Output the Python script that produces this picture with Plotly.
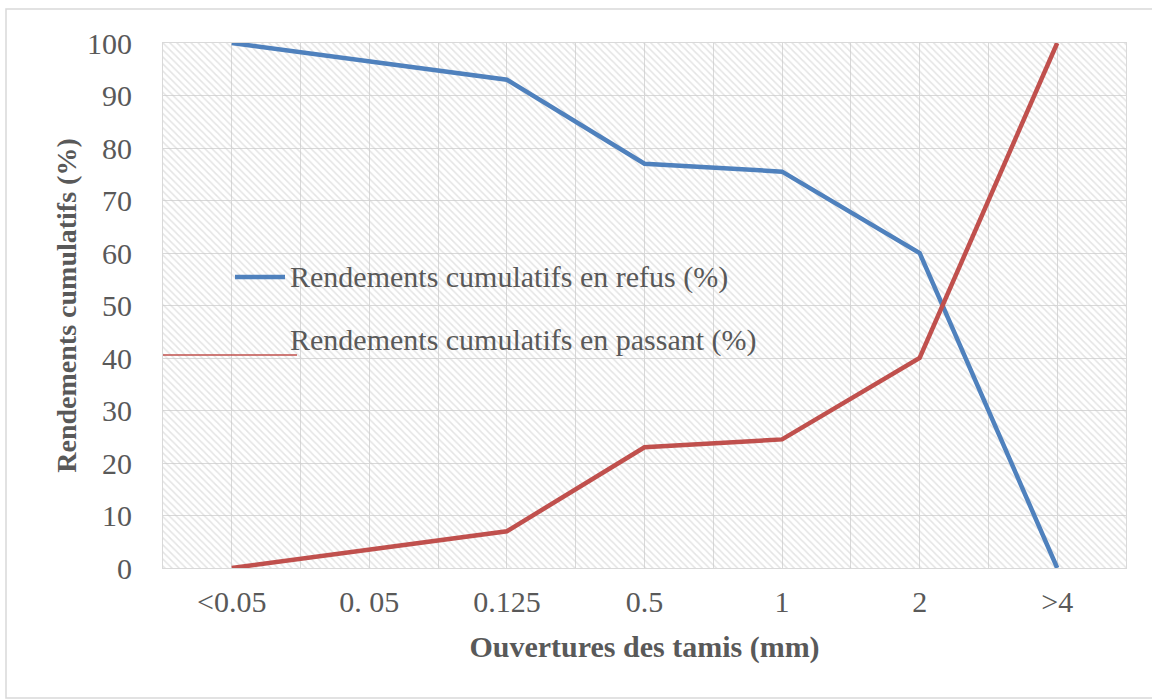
import plotly.graph_objects as go

# Sieve openings (mm) and cumulative yields (%)
CATEGORIES = ["<0.05", "0. 05", "0.125", "0.5", "1", "2", ">4"]
REFUS = [100, 96.5, 93, 77, 75.5, 60, 0]
PASSANT = [0, 3.5, 7, 23, 24.5, 40, 100]
NAME_REFUS = "Rendements cumulatifs en refus (%)"
NAME_PASSANT = "Rendements cumulatifs en passant (%)"
Y_TICKS = list(range(0, 101, 10))

BLUE = "#4F81BD"
RED = "#C0504D"
GRID = "#d9d9d9"
TEXT = "#595959"
FONT = "Liberation Serif, Times New Roman, serif"

pos = list(range(len(CATEGORIES)))

fig = go.Figure()

# hatched plot-area background
fig.add_trace(go.Bar(
    x=pos, y=[max(Y_TICKS)] * len(pos), width=1,
    marker=dict(color="rgba(0,0,0,0)", line=dict(width=0),
                pattern=dict(shape="\\", fgcolor="#cacaca", bgcolor="rgba(0,0,0,0)",
                             size=5, solidity=0.3)),
    hoverinfo="skip", showlegend=False,
))

fig.add_trace(go.Scatter(x=pos, y=REFUS, mode="lines", name=NAME_REFUS,
                         line=dict(color=BLUE, width=4.5), showlegend=False))
fig.add_trace(go.Scatter(x=pos, y=PASSANT, mode="lines", name=NAME_PASSANT,
                         line=dict(color=RED, width=4.5), showlegend=False))

L, R, T, B = 163, 26, 43, 132
W, H = 1152, 700
pw, ph = W - L - R, H - T - B


def px_x(px):
    return (px - L) / pw


def px_y(py):
    return (H - B - py) / ph


shapes = [
    # chart frame
    dict(type="rect", xref="paper", yref="paper",
         x0=px_x(6), x1=px_x(1160), y0=px_y(698), y1=px_y(9),
         line=dict(color=GRID, width=1.5), fillcolor="rgba(0,0,0,0)", layer="below"),
    # legend keys
    dict(type="line", xref="paper", yref="paper",
         x0=px_x(235), x1=px_x(285), y0=px_y(277), y1=px_y(277),
         line=dict(color=BLUE, width=4.5)),
    dict(type="line", xref="paper", yref="paper",
         x0=px_x(163), x1=px_x(297), y0=px_y(355), y1=px_y(355),
         line=dict(color=RED, width=1.5)),
]

annotations = [
    dict(text=NAME_REFUS, xref="paper", yref="paper", x=px_x(288), y=px_y(277),
         xanchor="left", yanchor="middle", showarrow=False,
         font=dict(family=FONT, size=30, color=TEXT)),
    dict(text=NAME_PASSANT, xref="paper", yref="paper", x=px_x(288), y=px_y(340),
         xanchor="left", yanchor="middle", showarrow=False,
         font=dict(family=FONT, size=30, color=TEXT)),
]

fig.update_layout(
    width=W, height=H,
    margin=dict(l=L, r=R, t=T, b=B, pad=0),
    paper_bgcolor="white", plot_bgcolor="white",
    bargap=0, barmode="overlay",
    shapes=shapes, annotations=annotations,
    font=dict(family=FONT, color=TEXT),
    xaxis=dict(
        range=[-0.5, len(CATEGORIES) - 0.5],
        tickmode="array", tickvals=pos, ticktext=CATEGORIES,
        showgrid=True, gridcolor=GRID, gridwidth=1,
        minor=dict(tickmode="linear", tick0=-0.5, dtick=1, showgrid=True,
                   gridcolor=GRID, gridwidth=1, ticks=""),
        showline=True, linecolor=GRID, linewidth=1, mirror=True,
        zeroline=False, ticks="outside", ticklen=7, tickcolor="rgba(0,0,0,0)",
        tickfont=dict(family=FONT, size=30, color=TEXT),
        title=dict(text="<b>Ouvertures des tamis (mm)</b>",
                   font=dict(family=FONT, size=30, color=TEXT), standoff=18),
        automargin=False,
    ),
    yaxis=dict(
        range=[0, 100], tickvals=Y_TICKS,
        showgrid=True, gridcolor=GRID, gridwidth=1,
        showline=True, linecolor=GRID, linewidth=1, mirror=True,
        zeroline=False, ticks="outside", ticklen=24, tickcolor="rgba(0,0,0,0)",
        tickfont=dict(family=FONT, size=30, color=TEXT),
        title=dict(text="<b>Rendements cumulatifs (%)</b>",
                   font=dict(family=FONT, size=28, color=TEXT), standoff=2),
        automargin=False,
    ),
)

fig.write_html("out.html")
